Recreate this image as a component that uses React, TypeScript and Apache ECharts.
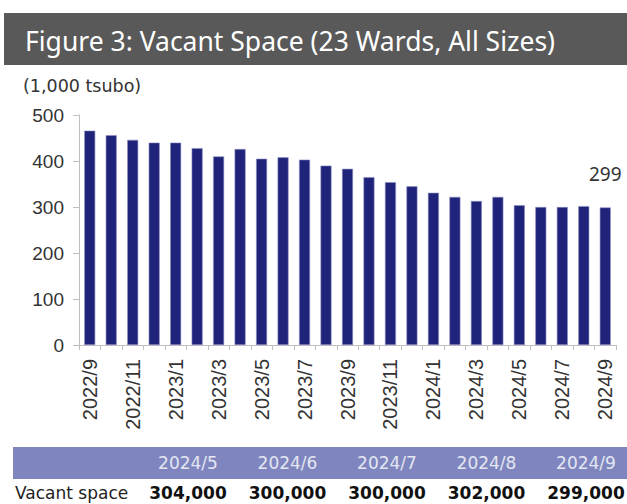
import React, { useEffect, useRef } from "react";
import * as echarts from "echarts";

const categories = [
  "2022/9", "2022/10", "2022/11", "2022/12",
  "2023/1", "2023/2", "2023/3", "2023/4", "2023/5", "2023/6", "2023/7", "2023/8",
  "2023/9", "2023/10", "2023/11", "2023/12",
  "2024/1", "2024/2", "2024/3", "2024/4", "2024/5", "2024/6", "2024/7", "2024/8", "2024/9",
];
const vacantSpace = [
  466, 456, 446, 440, 440, 428, 410, 426, 405, 408, 403, 390,
  383, 365, 354, 345, 331, 322, 313, 322, 304, 300, 300, 302, 299,
];
const yTicks = [0, 100, 200, 300, 400, 500];
const tableMonths = ["2024/5", "2024/6", "2024/7", "2024/8", "2024/9"];
const tableValues = ["304,000", "300,000", "300,000", "302,000", "299,000"];
const titleText = "Figure 3: Vacant Space (23 Wards, All Sizes)";
const unitText = "(1,000 tsubo)";
const rowLabel = "Vacant space";

export default function App() {
  const ref = useRef<HTMLDivElement>(null);
  useEffect(() => {
    if (!ref.current) return;
    const chart = echarts.init(ref.current, undefined, { renderer: "svg" });
    const last = vacantSpace.length - 1;
    const tableX = [188, 287.5, 387, 486.5, 586];
    const graphics: any[] = [
      { type: "rect", shape: { x: 4, y: 13, width: 623, height: 52 }, style: { fill: "#595959" } },
      {
        type: "text", x: 25, y: 41,
        style: { text: titleText, fill: "#ffffff", font: "26.5px 'Noto Sans'", textVerticalAlign: "middle" },
      },
      {
        type: "text", x: 23, y: 86,
        style: { text: unitText, fill: "#333333", font: "17.5px 'DejaVu Sans'", textVerticalAlign: "middle" },
      },
      { type: "rect", shape: { x: 13, y: 447, width: 614, height: 32 }, style: { fill: "#7F86BF" } },
      {
        type: "text", x: 15, y: 493,
        style: { text: rowLabel, fill: "#222222", font: "17px 'DejaVu Sans'", textVerticalAlign: "middle" },
      },
    ];
    tableMonths.forEach((m, i) => {
      graphics.push({
        type: "text", x: tableX[i], y: 463,
        style: { text: m, fill: "#E4E6F2", font: "17px 'DejaVu Sans'", textAlign: "center", textVerticalAlign: "middle" },
      });
      graphics.push({
        type: "text", x: tableX[i], y: 493,
        style: { text: tableValues[i], fill: "#111111", font: "bold 17px 'DejaVu Sans'", textAlign: "center", textVerticalAlign: "middle" },
      });
    });

    chart.setOption({
      animation: false,
      grid: { left: 79, right: 11, top: 115, bottom: 159, containLabel: false },
      xAxis: {
        type: "category",
        data: categories,
        axisLine: { show: true, lineStyle: { color: "#BFBFBF", width: 1 } },
        axisTick: { show: true, interval: 0, length: 5, alignWithLabel: false, lineStyle: { color: "#BFBFBF" } },
        axisLabel: {
          interval: 1, rotate: 90, fontSize: 20, color: "#333333",
          fontFamily: "Liberation Sans", margin: 14,
        },
      },
      yAxis: {
        type: "value",
        min: yTicks[0],
        max: yTicks[yTicks.length - 1],
        interval: 100,
        splitLine: { show: false },
        axisLine: { show: true, lineStyle: { color: "#BFBFBF", width: 1 } },
        axisTick: { show: true, length: 6, lineStyle: { color: "#BFBFBF" } },
        axisLabel: { fontSize: 19, color: "#333333", fontFamily: "Liberation Sans", margin: 15 },
      },
      series: [
        {
          type: "bar",
          barWidth: 11,
          data: vacantSpace.map((v, i) =>
            i === last
              ? {
                  value: v,
                  label: {
                    show: true, position: "top", distance: 24, fontSize: 19,
                    color: "#333333", fontFamily: "Noto Sans",
                  },
                }
              : v
          ),
          itemStyle: { color: "#1F2379", borderColor: "#8F91C4", borderWidth: 0.6 },
        },
      ],
      graphic: graphics,
    });
    return () => chart.dispose();
  }, []);
  return (
    <div
      ref={ref}
      style={{ position: "absolute", left: 0, top: 0, width: 627, height: 504, background: "#ffffff" }}
    />
  );
}
